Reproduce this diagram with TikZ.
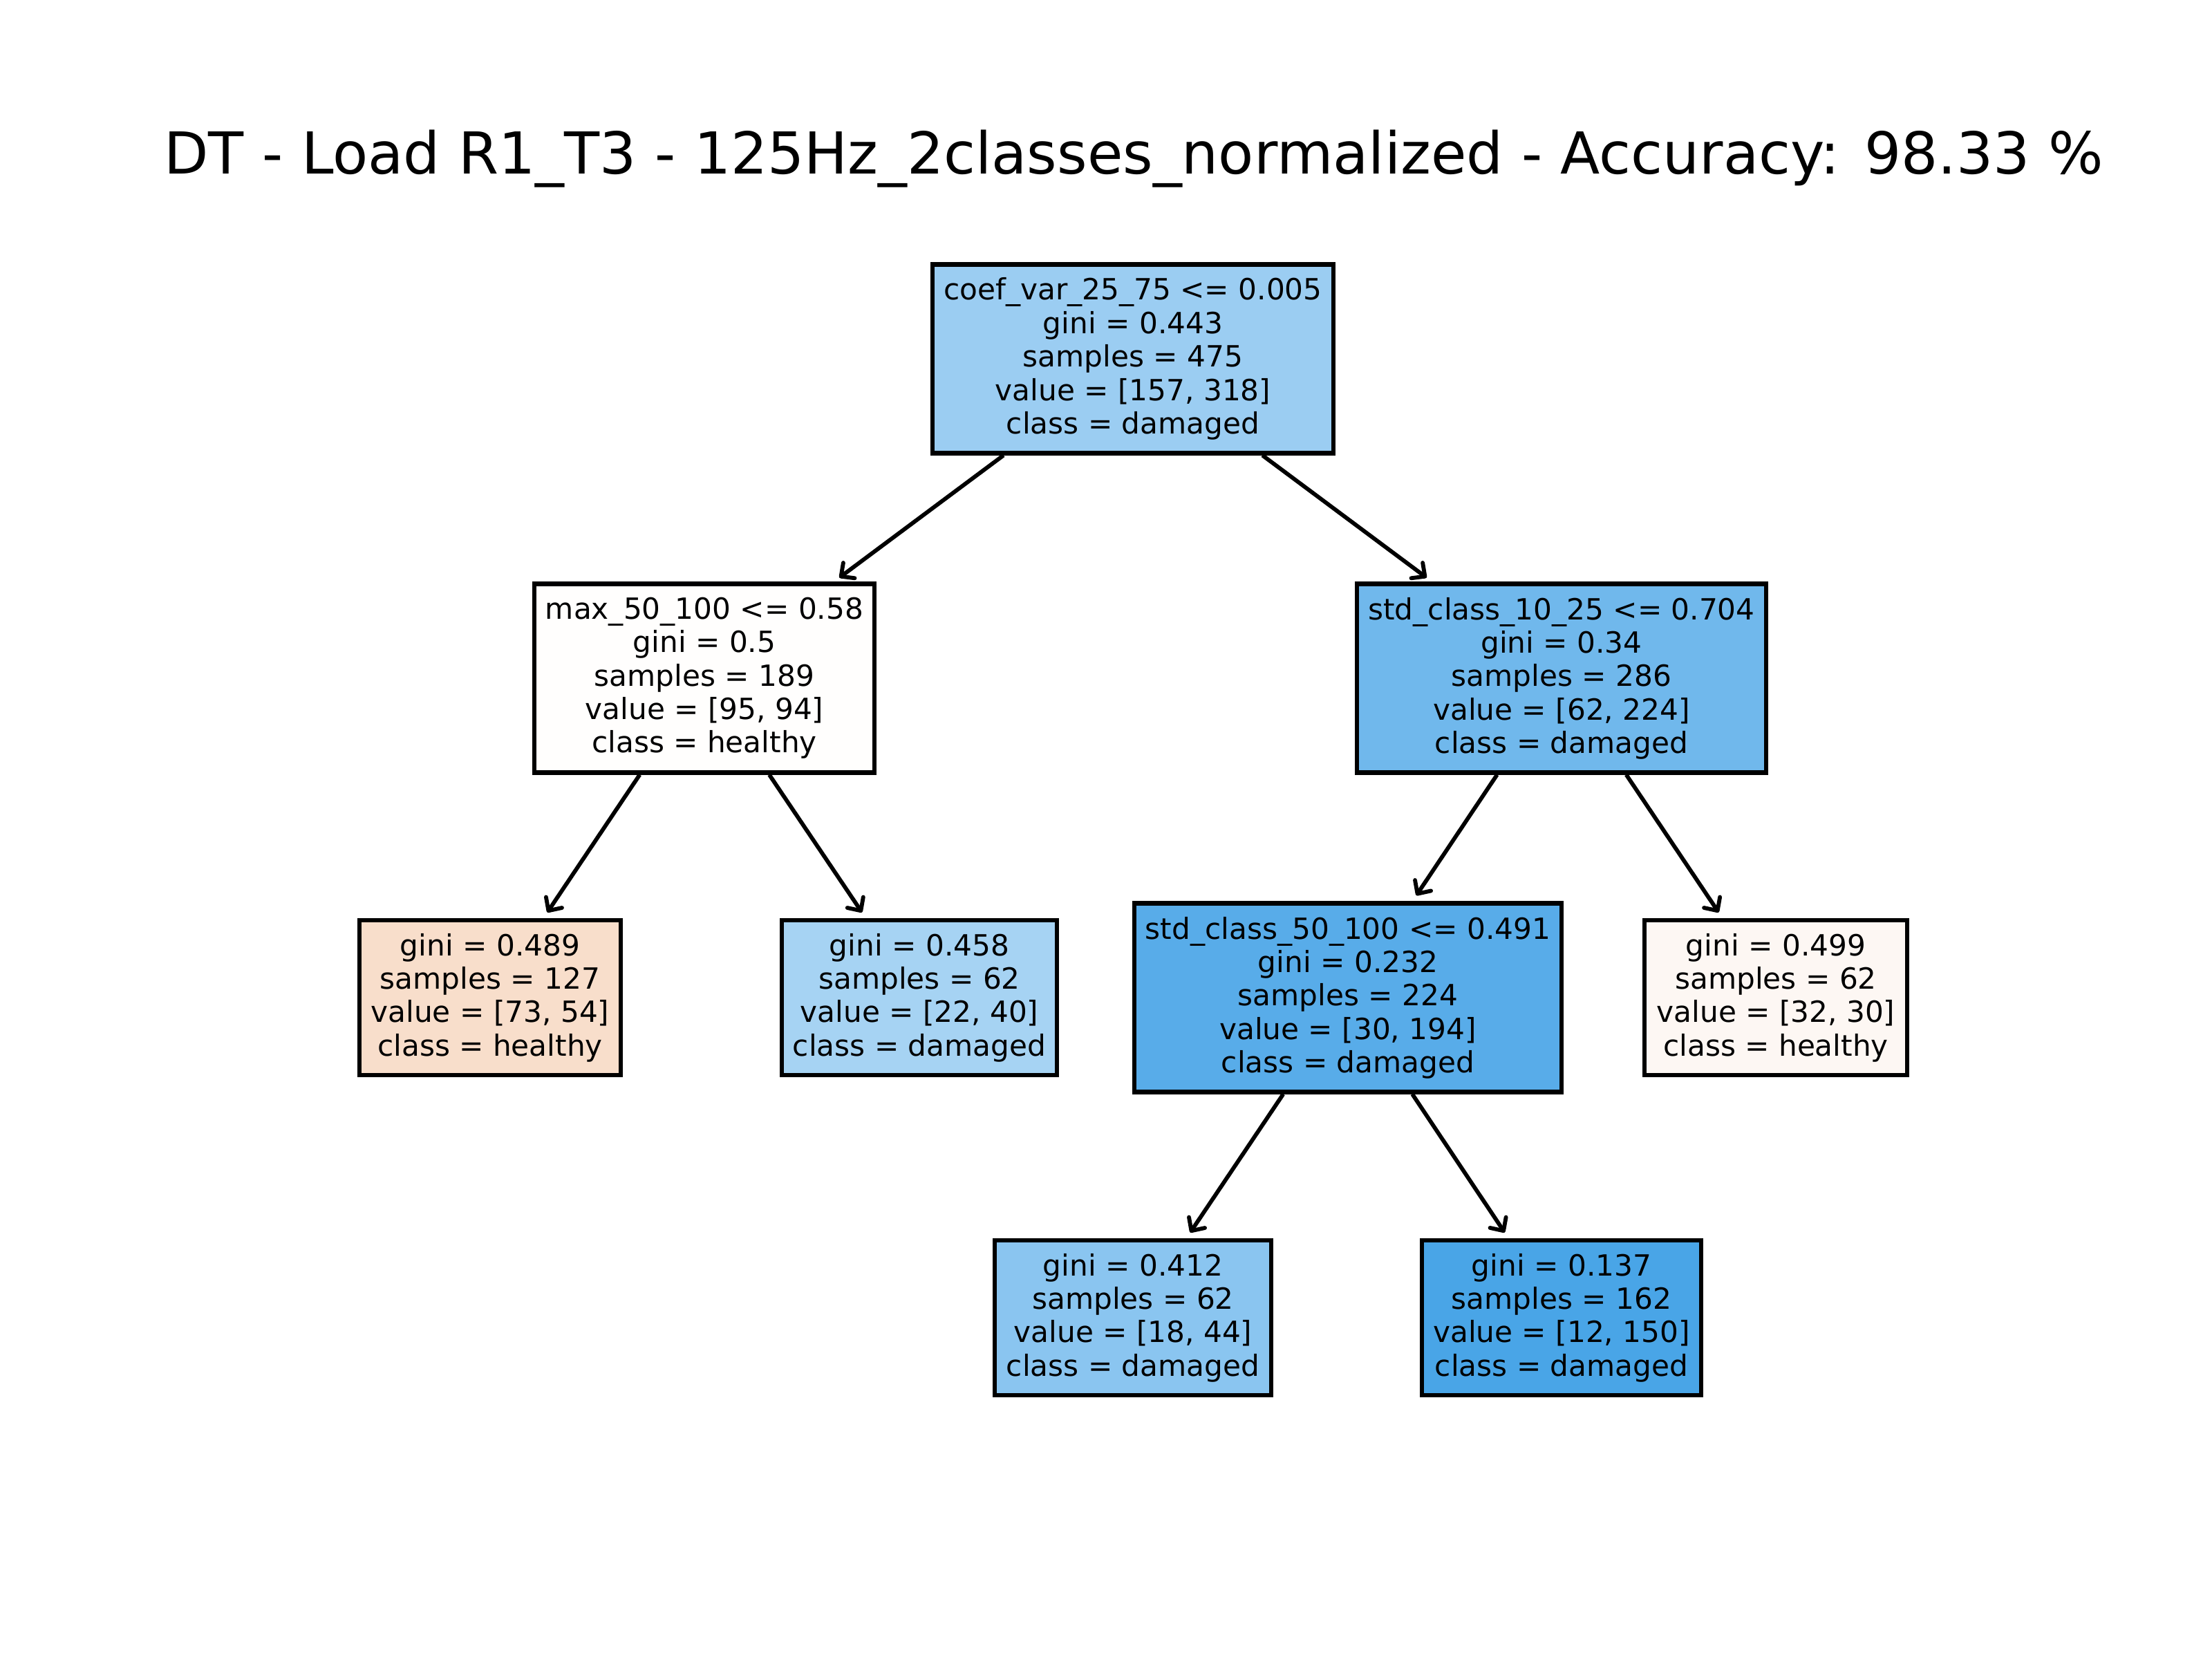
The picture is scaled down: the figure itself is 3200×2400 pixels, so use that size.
\documentclass[tikz,border=0pt]{standalone}
\usepackage{fontspec}
\setmainfont{DejaVu Sans}
\usetikzlibrary{arrows.meta}
\definecolor{cRoot}{RGB}{155,205,242}
\definecolor{cL}{RGB}{255,254,253}
\definecolor{cR}{RGB}{112,184,236}
\definecolor{cLa}{RGB}{248,222,203}
\definecolor{cLb}{RGB}{166,211,243}
\definecolor{cN}{RGB}{88,172,233}
\definecolor{cRb}{RGB}{253,247,243}
\definecolor{cNa}{RGB}{138,197,240}
\definecolor{cNb}{RGB}{73,165,231}
\tikzset{
  tbox/.style={draw=black, line width=1.1pt, inner sep=0pt, align=center,
    font=\fontsize{7.6pt}{8.7pt}\selectfont, minimum height=#1*0.18pt},
  edge/.style={line width=1.05pt, -{Straight Barb[length=2.6pt,width=5pt,round]}, shorten >=1.8pt},
}
\begin{document}
\begin{tikzpicture}[x=0.18pt, y=-0.18pt]
\useasboundingbox (0,0) rectangle (3200,2400);
\node[anchor=base, font=\fontsize{15.05pt}{17pt}\selectfont] (title) at (1640,251)
  {DT - Load R1\_T3 - 125Hz\_2classes\_normalized - Accuracy: 98.33 \%};

\node[tbox=273, fill=cRoot, minimum width=580*0.18pt] (root) at (1639,519)
  {coef\_var\_25\_75 <= 0.005\\gini = 0.443\\samples = 475\\value = [157, 318]\\class = damaged};
\node[tbox=273, fill=cL, minimum width=492*0.18pt] (L) at (1019,981)
  {max\_50\_100 <= 0.58\\gini = 0.5\\samples = 189\\value = [95, 94]\\class = healthy};
\node[tbox=273, fill=cR, minimum width=592*0.18pt] (R) at (2259,981)
  {std\_class\_10\_25 <= 0.704\\gini = 0.34\\samples = 286\\value = [62, 224]\\class = damaged};
\node[tbox=224, fill=cLa, minimum width=378*0.18pt] (La) at (709,1443)
  {gini = 0.489\\samples = 127\\value = [73, 54]\\class = healthy};
\node[tbox=224, fill=cLb, minimum width=398*0.18pt] (Lb) at (1330,1443)
  {gini = 0.458\\samples = 62\\value = [22, 40]\\class = damaged};
\node[tbox=273, fill=cN, minimum width=618*0.18pt] (N) at (1950,1443)
  {std\_class\_50\_100 <= 0.491\\gini = 0.232\\samples = 224\\value = [30, 194]\\class = damaged};
\node[tbox=224, fill=cRb, minimum width=380*0.18pt] (Rb) at (2569,1443)
  {gini = 0.499\\samples = 62\\value = [32, 30]\\class = healthy};
\node[tbox=224, fill=cNa, minimum width=400*0.18pt] (Na) at (1639,1906)
  {gini = 0.412\\samples = 62\\value = [18, 44]\\class = damaged};
\node[tbox=224, fill=cNb, minimum width=404*0.18pt] (Nb) at (2259,1906)
  {gini = 0.137\\samples = 162\\value = [12, 150]\\class = damaged};

\draw[edge] (root) -- (L);
\draw[edge] (root) -- (R);
\draw[edge] (L) -- (La);
\draw[edge] (L) -- (Lb);
\draw[edge] (R) -- (N);
\draw[edge] (R) -- (Rb);
\draw[edge] (N) -- (Na);
\draw[edge] (N) -- (Nb);
\end{tikzpicture}
\end{document}
